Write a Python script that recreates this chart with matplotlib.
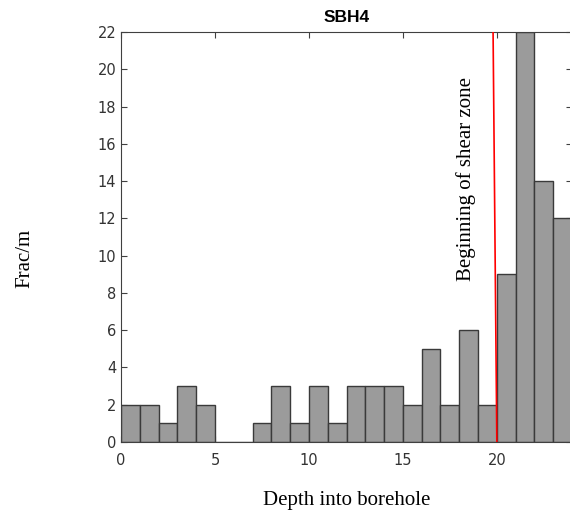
import numpy as np
import matplotlib.pyplot as plt

# fractures per metre in 1 m bins along SBH4
bin_left = np.arange(0, 24)
frac_per_m = [2, 2, 1, 3, 2, 0, 0, 1, 3, 1, 3, 1,
              3, 3, 3, 2, 5, 2, 6, 2, 9, 22, 14, 12]

# marker for start of shear zone
shear_x = [19.8, 20.0]
shear_y = [22, 0]

fig = plt.figure(figsize=(5.70, 5.15), dpi=100)
ax = fig.add_axes([0.2123, 0.1417, 0.7912, 0.7961])

ax.bar(bin_left, frac_per_m, width=1, align='edge',
       color='#9b9b9b', edgecolor='#3a3a3a', linewidth=1.0, zorder=2)
ax.plot(shear_x, shear_y, color='red', linewidth=1.2, zorder=3)

ax.text(18.35, 14.1, 'Beginning of shear zone', rotation=90,
        ha='center', va='center', family='Liberation Serif', fontsize=15)

ax.set_xlim(0, 24)
ax.set_ylim(0, 22)
ax.set_xticks([0, 5, 10, 15, 20])
ax.set_yticks(np.arange(0, 23, 2))
ax.tick_params(direction='in', length=4, top=True, right=True,
               labelsize=10.5, labelcolor='#333333', color='#404040')
ax.tick_params(axis='x', pad=8)
for s in ax.spines.values():
    s.set_color('#404040')
    s.set_linewidth(0.8)

ax.set_title('SBH4', fontsize=12.5, fontweight='bold', family='Liberation Sans', pad=7)

fig.text(25 / 570, 1 - 258 / 515, 'Frac/m', rotation=90, ha='center', va='center',
         family='Liberation Serif', fontsize=15)
fig.text(347 / 570, 1 - 501 / 515, 'Depth into borehole', ha='center', va='center',
         family='Liberation Serif', fontsize=15)

fig.savefig('out.png', dpi=100)
